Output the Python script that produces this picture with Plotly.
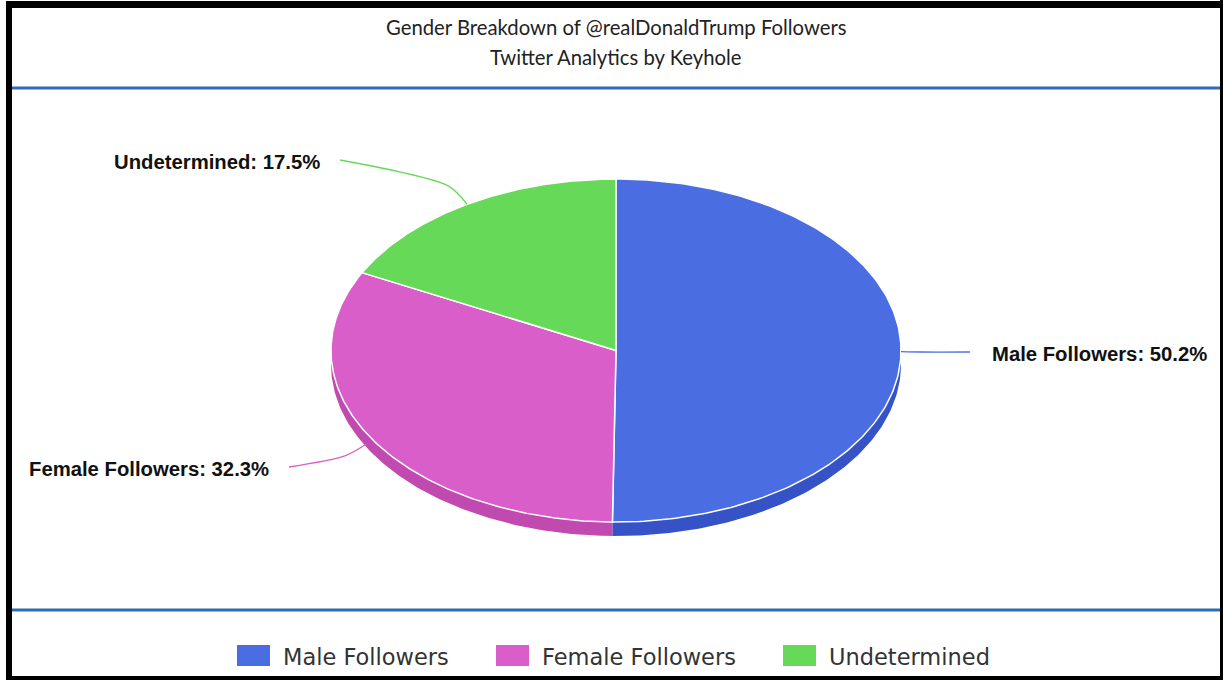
import numpy as np
import plotly.graph_objects as go

# ---- data ----
categories = ["Male Followers", "Female Followers", "Undetermined"]
percentages = [50.2, 32.3, 17.5]
title_lines = ["Gender Breakdown of @realDonaldTrump Followers", "Twitter Analytics by Keyhole"]

# ---- style ----
top_colors = ["#4a6ee2", "#d95ec9", "#66d958"]
side_colors = ["#3553c6", "#c14ab1", "#4fb844"]
W, H = 1223, 680
cx, cy, a, b, depth = 616, 350.5, 285, 171.5, 14
# label positions (x, y, anchor)
label_pos = [(990, 354, "left"), (271, 469, "right"), (322, 162, "right")]
elbow_len = [20, 18, 26]


def ell(theta_deg, dy=0.0):
    t = np.radians(theta_deg)
    return cx + a * np.sin(t), cy - b * np.cos(t) + dy


total = sum(percentages)
bounds = np.concatenate([[0], np.cumsum(percentages) / total * 360.0])

fig = go.Figure()

# side (3D depth) for the visible front half
for i, cat in enumerate(categories):
    s, e = bounds[i], bounds[i + 1]
    lo, hi = max(s, 90), min(e, 270)
    if hi <= lo:
        continue
    th = np.linspace(lo, hi, 120)
    xt, yt = ell(th)
    xb, yb = ell(th[::-1], depth)
    fig.add_trace(go.Scatter(
        x=np.concatenate([xt, xb, xt[:1]]), y=np.concatenate([yt, yb, yt[:1]]),
        mode="lines", fill="toself", fillcolor=side_colors[i],
        line=dict(width=0, color=side_colors[i]), hoverinfo="skip", showlegend=False))

# top faces
for i, cat in enumerate(categories):
    s, e = bounds[i], bounds[i + 1]
    th = np.linspace(s, e, 200)
    xs, ys = ell(th)
    fig.add_trace(go.Scatter(
        x=np.concatenate([[cx], xs, [cx]]), y=np.concatenate([[cy], ys, [cy]]),
        mode="lines", fill="toself", fillcolor=top_colors[i],
        line=dict(width=1.5, color="white"), hoverinfo="skip", showlegend=False,
        name=cat))

# leader lines and labels
annotations = []
for i, cat in enumerate(categories):
    mid = (bounds[i] + bounds[i + 1]) / 2
    ax_, ay_ = ell(mid)
    ux, uy = ax_ - cx, ay_ - cy
    n = np.hypot(ux, uy)
    ux, uy = ux / n, uy / n
    ex, ey = ax_ + ux * elbow_len[i], ay_ + uy * elbow_len[i]
    lx, ly, anc = label_pos[i]
    endx = lx - 20 if anc == "left" else lx + 18
    endy = ly - 2
    if i == 0:
        ex, ey = ex, endy
    if i == 1:
        ax_, ay_ = ax_ - 6, ay_ + 5
        ex, ey = ax_ - 22, ay_ + 12
    fig.add_trace(go.Scatter(
        x=[ax_, ex, endx], y=[ay_, ey, endy], mode="lines",
        line=dict(color=top_colors[i], width=1.3, shape="spline", smoothing=0.8),
        hoverinfo="skip", showlegend=False))
    annotations.append(dict(
        x=lx, y=ly, xref="x", yref="y", showarrow=False, xanchor=anc, yanchor="middle",
        text=f"<b>{cat}: {percentages[i]:.1f}%</b>",
        font=dict(family="Liberation Sans, Arial, sans-serif", size=20.3, color="#111")))

# titles
for j, t in enumerate(title_lines):
    annotations.append(dict(
        x=616, y=27 + 30 * j, xref="x", yref="y", showarrow=False,
        xanchor="center", yanchor="middle", text=t,
        font=dict(family="Lato, sans-serif", size=20.3, color="#222")))

# legend (manual)
sw_x = [237, 496, 783]
shapes = []
for i, cat in enumerate(categories):
    shapes.append(dict(type="rect", xref="x", yref="y", x0=sw_x[i], x1=sw_x[i] + 33,
                       y0=645, y1=666, fillcolor=top_colors[i], line=dict(width=0)))
    annotations.append(dict(
        x=sw_x[i] + 44, y=657, xref="x", yref="y", showarrow=False,
        xanchor="left", yanchor="middle", text=cat,
        font=dict(family="DejaVu Sans, sans-serif", size=22.5, color="#333")))

# separators
for yy in (88, 610):
    shapes.append(dict(type="line", xref="x", yref="y", x0=12, x1=1221, y0=yy, y1=yy,
                       line=dict(color="#2f6cb6", width=3)))

# black frame
frame = [(6, 12, 1, 680), (6, 1223, 1, 8), (1220, 1223, 0, 680), (6, 1223, 676, 680)]
for x0, x1, y0, y1 in frame:
    shapes.append(dict(type="rect", xref="x", yref="y", x0=x0, x1=x1, y0=y0, y1=y1,
                       fillcolor="black", line=dict(width=0)))

fig.update_layout(
    width=W, height=H, margin=dict(l=0, r=0, t=0, b=0),
    paper_bgcolor="white", plot_bgcolor="white",
    xaxis=dict(range=[0, W], visible=False, fixedrange=True),
    yaxis=dict(range=[H, 0], visible=False, fixedrange=True),
    shapes=shapes, annotations=annotations, showlegend=False,
)

fig.write_html("out.html", config={"displayModeBar": False},
               post_script="document.body.style.margin='0';")
